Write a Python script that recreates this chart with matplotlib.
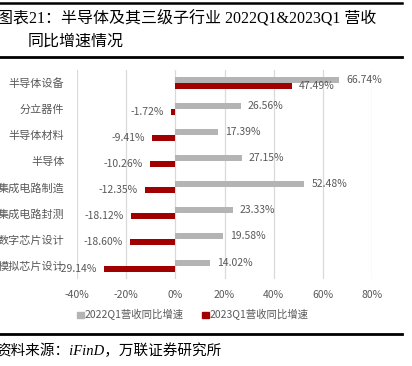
import matplotlib
matplotlib.use("Agg")
import matplotlib.pyplot as plt
from matplotlib.lines import Line2D
from matplotlib.patches import Patch
import numpy as np

categories = ["半导体设备", "分立器件", "半导体材料", "半导体", "集成电路制造",
              "集成电路封测", "数字芯片设计", "模拟芯片设计"]
growth_2022q1 = [66.74, 26.56, 17.39, 27.15, 52.48, 23.33, 19.58, 14.02]
growth_2023q1 = [47.49, -1.72, -9.41, -10.26, -12.35, -18.12, -18.60, -29.14]
series_names = ["2022Q1营收同比增速", "2023Q1营收同比增速"]
xticks = [-40, -20, 0, 20, 40, 60, 80]

CJK = ["Noto Sans CJK SC", "DejaVu Sans"]
SERIF = ["Liberation Serif", "Noto Sans CJK SC"]
plt.rcParams["font.family"] = CJK
plt.rcParams["axes.unicode_minus"] = False

GRAY = "#B4B4B4"
RED = "#A00000"
TXT = "#595959"

W, H = 412, 366
fig = plt.figure(figsize=(W / 100, H / 100), dpi=100)
ax = fig.add_axes([77 / W, 1 - 278.6 / H, (372 - 77) / W, 208.6 / H])

y = np.arange(len(categories))
bh = 0.23
ax.barh(y - bh / 2, growth_2022q1, height=bh, color=GRAY, zorder=3)
ax.barh(y + bh / 2, growth_2023q1, height=bh, color=RED, zorder=3)

ax.set_xlim(-40, 80)
ax.set_ylim(len(categories) - 0.5, -0.5)
ax.set_xticks(xticks)
ax.set_xticklabels([f"{t}%" for t in xticks], fontsize=7.5, color=TXT)
ax.set_yticks(y)
ax.set_yticklabels(categories, fontsize=8, color=TXT)
ax.tick_params(length=0, axis="x", pad=8)
ax.tick_params(length=0, axis="y", pad=9)
for s in ax.spines.values():
    s.set_visible(False)
ax.grid(axis="x", color="#D9D9D9", lw=0.9, zorder=0)

for i, v in enumerate(growth_2022q1):
    ax.annotate(f"{v:.2f}%", (v, i - bh / 2), xytext=(5, 0), textcoords="offset points",
                ha="left", va="center", fontsize=7.5, color=TXT, zorder=4)
for i, v in enumerate(growth_2023q1):
    if v >= 0:
        ax.annotate(f"{v:.2f}%", (v, i + bh / 2), xytext=(5, 0), textcoords="offset points",
                    ha="left", va="center", fontsize=7.5, color=TXT, zorder=4)
    else:
        ax.annotate(f"{v:.2f}%", (v, i + bh / 2), xytext=(-5, 0), textcoords="offset points",
                    ha="right", va="center", fontsize=7.5, color=TXT, zorder=4)

handles = [Patch(color=GRAY), Patch(color=RED)]
fig.legend(handles, series_names, loc="center", bbox_to_anchor=(193 / W, 1 - 315 / H),
           ncol=2, frameon=False, fontsize=7.5, labelcolor=TXT,
           handlelength=0.6, handleheight=0.6, handletextpad=0.1, columnspacing=1.8)

# title and frame lines
fig.text(-3 / W, 1 - 18 / H, "图表21：半导体及其三级子行业 2022Q1&2023Q1 营收",
         fontsize=11.5, family=SERIF, ha="left", va="center", color="black")
fig.text(28 / W, 1 - 42 / H, "同比增速情况", fontsize=11.5, family=SERIF,
         ha="left", va="center", color="black")
for yy, lw in [(3, 1.8), (57, 2.0), (334, 2.0)]:
    fig.add_artist(Line2D([0, 402 / W], [1 - yy / H, 1 - yy / H],
                          transform=fig.transFigure, color="black", lw=lw))
fig.text(-4 / W, 1 - 351 / H, "资料来源：iFinD，万联证券研究所", fontsize=10.5,
         style="italic", family=SERIF, ha="left", va="center", color="black")

fig.savefig("out.png", dpi=100)
